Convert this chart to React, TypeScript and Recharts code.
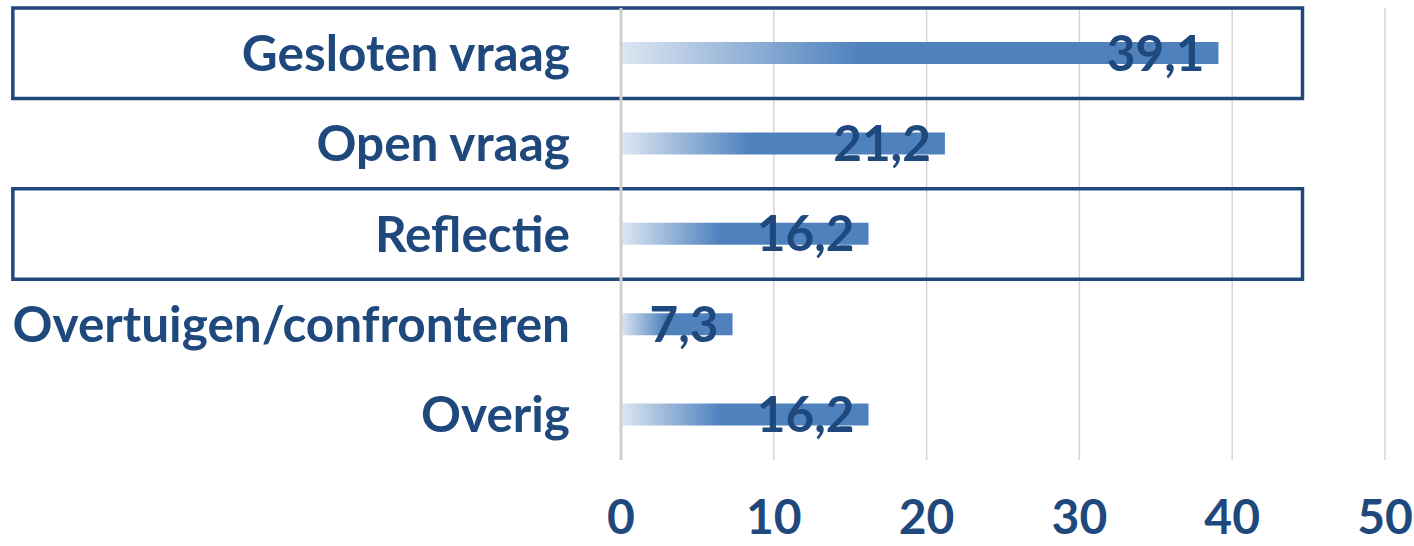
import { BarChart, Bar, XAxis, YAxis, CartesianGrid, LabelList, ReferenceArea } from 'recharts'

const categories = ['Gesloten vraag', 'Open vraag', 'Reflectie', 'Overtuigen/confronteren', 'Overig']
const values = [39.1, 21.2, 16.2, 7.3, 16.2]
const xTicks = [0, 10, 20, 30, 40, 50]
const highlighted = ['Gesloten vraag', 'Reflectie']

const data = categories.map((name, i) => ({ name, value: values[i] }))

const TEXT = '#1F497D'
const FONT = 'Lato, "Open Sans", sans-serif'

const fmt = (v: unknown) => String(v).replace('.', ',')

export default function App() {
  return (
    <div style={{ position: 'absolute', left: 0, top: 0, background: '#fff' }}>
      <BarChart
        width={1414}
        height={546}
        data={data}
        layout="vertical"
        margin={{ top: 8, right: 29, bottom: 0, left: 0 }}
      >
        <defs>
          <linearGradient id="barFill" x1="0" y1="0" x2="1" y2="0">
            <stop offset="0" stopColor="#DDE7F3" />
            <stop offset="0.4" stopColor="#4F81BD" />
            <stop offset="1" stopColor="#4F81BD" />
          </linearGradient>
        </defs>
        <CartesianGrid horizontal={false} stroke="#D4D4D4" strokeWidth={1.5} />
        <XAxis
          type="number"
          domain={[0, 50]}
          ticks={xTicks}
          axisLine={false}
          tickLine={false}
          tickSize={0}
          tickMargin={40}
          height={86}
          interval={0}
          tick={{ fill: TEXT, fontSize: 48, fontWeight: 700, fontFamily: FONT }}
        />
        <YAxis
          type="category"
          dataKey="name"
          width={621}
          axisLine={{ stroke: '#CFCFCF', strokeWidth: 3 }}
          tickLine={false}
          tickSize={0}
          tickMargin={51}
          interval={0}
          tick={{ fill: TEXT, fontSize: 49.5, fontWeight: 700, fontFamily: FONT }}
        />
        {highlighted.map((c) => (
          <ReferenceArea
            key={c}
            y1={c}
            y2={c}
            x1={-39.8}
            x2={44.6}
            ifOverflow="visible"
            fill="none"
            stroke={TEXT}
            strokeWidth={3.5}
            fillOpacity={0}
          />
        ))}
        <Bar dataKey="value" barSize={22} fill="url(#barFill)" isAnimationActive={false}>
          <LabelList
            dataKey="value"
            position="insideRight"
            offset={14}
            formatter={fmt}
            fill={TEXT}
            style={{ fontSize: 49.5, fontWeight: 700, fontFamily: FONT }}
          />
        </Bar>
      </BarChart>
    </div>
  )
}
